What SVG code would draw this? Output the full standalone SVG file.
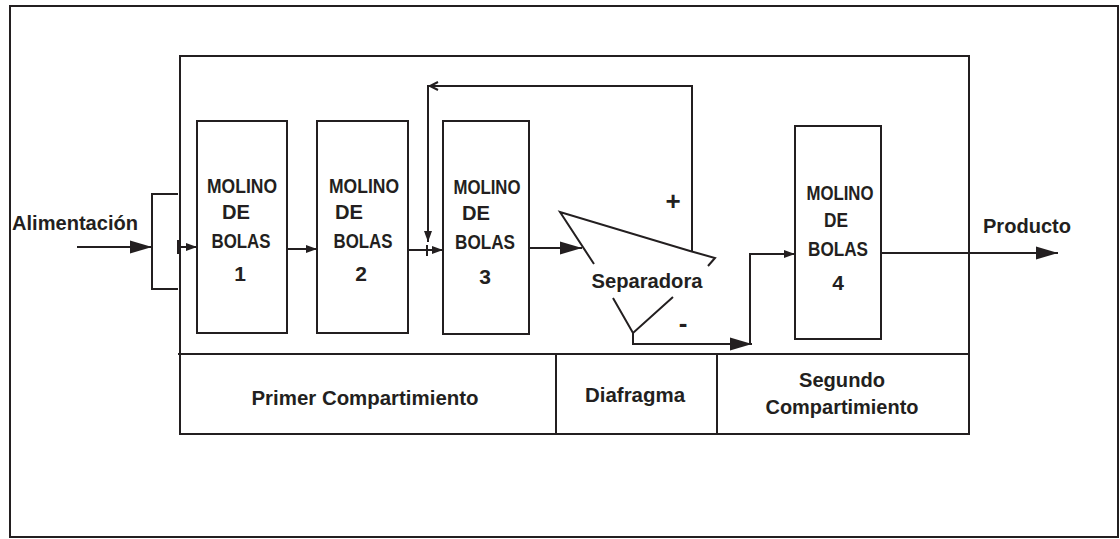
<svg xmlns="http://www.w3.org/2000/svg" width="1120" height="539" viewBox="0 0 1120 539">
<style>
.ln{fill:none;stroke:#231f20;stroke-width:2}
.bx{fill:#fff;stroke:#231f20;stroke-width:2}
.t{font-family:"Liberation Sans",Arial,sans-serif;font-weight:bold;fill:#231f20;text-anchor:middle}
.m{font-size:21px}
.lb{font-size:20px}
.pm{font-size:26px}
</style>
<defs>
<marker id="big" markerWidth="24" markerHeight="16" refX="22" refY="8" orient="auto" markerUnits="userSpaceOnUse">
<path d="M0,1.5 L22,8 L0,14.5 Z" fill="#231f20"/>
</marker>
<marker id="sm" markerWidth="12" markerHeight="10" refX="11" refY="5" orient="auto" markerUnits="userSpaceOnUse">
<path d="M0,1 L11,5 L0,9 Z" fill="#231f20"/>
</marker>
</defs>
<rect x="10" y="6" width="1108" height="531" fill="#fff" stroke="#231f20" stroke-width="2"/>
<g id="frame">
<rect x="180" y="56" width="789" height="378" class="ln"/>
<line x1="178" y1="354" x2="969" y2="354" class="ln"/>
<line x1="556" y1="354" x2="556" y2="434" class="ln"/>
<line x1="717" y1="354" x2="717" y2="434" class="ln"/>
</g>
<g id="table-labels">
<text class="t lb" x="365" y="405" textLength="227" lengthAdjust="spacingAndGlyphs">Primer Compartimiento</text>
<text class="t lb" x="635" y="402" textLength="100" lengthAdjust="spacingAndGlyphs">Diafragma</text>
<text class="t lb" x="842" y="387" textLength="86" lengthAdjust="spacingAndGlyphs">Segundo</text>
<text class="t lb" x="842" y="414" textLength="153" lengthAdjust="spacingAndGlyphs">Compartimiento</text>
</g>
<g id="feed">
<path d="M178,194 H152 V289 H178" class="ln"/>
<text class="t lb" x="75" y="230" textLength="126" lengthAdjust="spacingAndGlyphs">Alimentación</text>
</g>
<g id="mill1">
<rect x="197" y="121" width="90" height="212" class="bx"/>
<text class="t m" x="242" y="193" textLength="70" lengthAdjust="spacingAndGlyphs">MOLINO</text>
<text class="t m" x="236" y="219" textLength="28" lengthAdjust="spacingAndGlyphs">DE</text>
<text class="t m" x="241" y="248" textLength="59" lengthAdjust="spacingAndGlyphs">BOLAS</text>
<text class="t m" x="240" y="281">1</text>
</g>
<g id="mill2">
<rect x="317" y="121" width="91" height="212" class="bx"/>
<text class="t m" x="364" y="193" textLength="70" lengthAdjust="spacingAndGlyphs">MOLINO</text>
<text class="t m" x="349" y="219" textLength="28" lengthAdjust="spacingAndGlyphs">DE</text>
<text class="t m" x="363" y="248" textLength="59" lengthAdjust="spacingAndGlyphs">BOLAS</text>
<text class="t m" x="361" y="281">2</text>
</g>
<g id="mill3">
<rect x="443" y="121" width="86" height="213" class="bx"/>
<text class="t m" x="487" y="194" textLength="67" lengthAdjust="spacingAndGlyphs">MOLINO</text>
<text class="t m" x="476" y="220" textLength="28" lengthAdjust="spacingAndGlyphs">DE</text>
<text class="t m" x="485" y="249" textLength="60" lengthAdjust="spacingAndGlyphs">BOLAS</text>
<text class="t m" x="485" y="284">3</text>
</g>
<g id="mill4">
<rect x="795" y="126" width="86" height="213" class="bx"/>
<text class="t m" x="840" y="200" textLength="67" lengthAdjust="spacingAndGlyphs">MOLINO</text>
<text class="t m" x="836" y="227" textLength="24" lengthAdjust="spacingAndGlyphs">DE</text>
<text class="t m" x="838" y="256" textLength="60" lengthAdjust="spacingAndGlyphs">BOLAS</text>
<text class="t m" x="838" y="290">4</text>
</g>
<g id="separator">
<path d="M594,264 L560,212 L690,251 L715,258 L708,266" class="ln" stroke-width="2.5"/>
<path d="M613,298 L633,333 L673,297" class="ln" stroke-width="2.5"/>
<text class="t lb" x="647" y="288" textLength="111" lengthAdjust="spacingAndGlyphs">Separadora</text>
<text class="t pm" x="673" y="210">+</text>
<text class="t pm" x="683" y="332">-</text>
</g>
<g id="connectors">
<line x1="77" y1="247" x2="152" y2="247" class="ln" marker-end="url(#big)"/>
<line x1="178" y1="240" x2="178" y2="254" class="ln"/>
<line x1="178" y1="247" x2="197" y2="247" class="ln" marker-end="url(#sm)"/>
<line x1="287" y1="241" x2="287" y2="257" class="ln"/>
<line x1="287" y1="249" x2="317" y2="249" class="ln" marker-end="url(#sm)"/>
<line x1="408" y1="250" x2="443" y2="250" class="ln" marker-end="url(#sm)"/>
<line x1="427" y1="245" x2="427" y2="256" class="ln"/>
<path d="M692,251 V86 H428 V242" class="ln" marker-end="url(#sm)"/>
<path d="M438,82 L430,86 L438,90" class="ln"/>
<line x1="529" y1="248" x2="582" y2="248" class="ln" marker-end="url(#big)"/>
<path d="M633,333 V344 H752" class="ln" marker-end="url(#big)"/>
<path d="M750,344 V254 H795" class="ln" marker-end="url(#sm)"/>
<line x1="881" y1="253" x2="1058" y2="253" class="ln" marker-end="url(#big)"/>
</g>
<g id="output">
<text class="t lb" x="1027" y="233" textLength="88" lengthAdjust="spacingAndGlyphs">Producto</text>
</g>
</svg>
